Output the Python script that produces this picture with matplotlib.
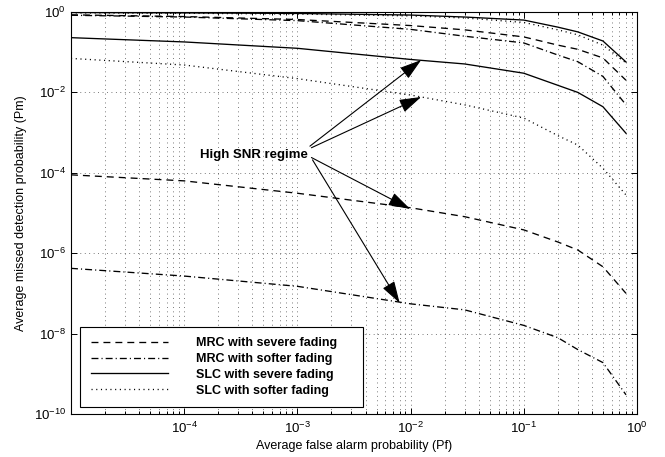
import matplotlib
matplotlib.use('Agg')
import matplotlib.pyplot as plt
from matplotlib.ticker import LogLocator, NullLocator, NullFormatter, FixedLocator, LogFormatterSciNotation

plt.rcParams['font.family'] = ['Liberation Sans', 'DejaVu Sans']
plt.rcParams['mathtext.fontset'] = 'custom'
plt.rcParams['mathtext.rm'] = 'Liberation Sans'
plt.rcParams['mathtext.it'] = 'Liberation Sans:italic'
plt.rcParams['mathtext.bf'] = 'Liberation Sans:bold'
plt.rcParams['lines.scale_dashes'] = False

# ---- data ----
pf = [1e-5, 1e-4, 1e-3, 1e-2, 0.03, 0.1, 0.2, 0.3, 0.5, 0.8]

# low SNR curves
mrc_severe_low = [0.85, 0.77, 0.65, 0.46, 0.36, 0.24, 0.15, 0.118, 0.072, 0.02]
mrc_softer_low = [0.83, 0.75, 0.61, 0.37, 0.25, 0.17, 0.085, 0.058, 0.025, 0.0049]
slc_severe_low = [0.97, 0.95, 0.92, 0.84, 0.75, 0.63, 0.42, 0.32, 0.19, 0.057]
slc_softer_low = [0.95, 0.93, 0.89, 0.80, 0.71, 0.55, 0.36, 0.27, 0.15, 0.054]

# high SNR curves
mrc_severe_high = [8.9e-5, 6.3e-5, 3.1e-5, 1.35e-5, 8.1e-6, 3.8e-6, 1.9e-6, 1.2e-6, 4.6e-7, 1.0e-7]
mrc_softer_high = [4.2e-7, 2.7e-7, 1.5e-7, 5.5e-8, 3.9e-8, 1.6e-8, 7.9e-9, 4.0e-9, 1.9e-9, 3.0e-10]
slc_severe_high = [0.23, 0.18, 0.125, 0.066, 0.051, 0.03, 0.015, 0.01, 0.0044, 0.00096]
slc_softer_high = [0.07, 0.048, 0.022, 0.0086, 0.0049, 0.0023, 8.4e-4, 4.9e-4, 1.3e-4, 2.8e-5]

labels = ['MRC with severe fading', 'MRC with softer fading',
          'SLC with severe fading', 'SLC with softer fading']

x_ticks = [1e-4, 1e-3, 1e-2, 1e-1, 1e0]
y_ticks = [1e-10, 1e-8, 1e-6, 1e-4, 1e-2, 1e0]

annot_text = 'High SNR regime'
annot_pos = (4.1e-4, 2.8e-4)
arrow_tails = [(1.29e-3, 4.6e-4), (1.33e-3, 4.2e-4), (1.33e-3, 2.4e-4), (1.36e-3, 2.1e-4)]
arrow_tips = [(1.24e-2, 0.064), (1.24e-2, 0.0077), (9.9e-3, 1.26e-5), (8.0e-3, 5.8e-8)]

# ---- styles ----
dashed = (0, (5.0, 3.6))
dashdot = (0, (5.0, 2.2, 0.8, 2.2))
dotted = (0, (0.8, 2.6))
lw = 0.95

fig = plt.figure(figsize=(6.65, 4.57), dpi=100)
ax = fig.add_axes([71/665, 1-414/457, 566/665, 402/457])

ax.plot(pf, mrc_severe_high, color='k', lw=lw, linestyle=dashed, label=labels[0])
ax.plot(pf, mrc_softer_high, color='k', lw=lw, linestyle=dashdot, label=labels[1])
ax.plot(pf, slc_severe_high, color='k', lw=lw, linestyle='-', label=labels[2])
ax.plot(pf, slc_softer_high, color='k', lw=lw, linestyle=dotted, label=labels[3])

ax.plot(pf, mrc_severe_low, color='k', lw=lw, linestyle=dashed)
ax.plot(pf, mrc_softer_low, color='k', lw=lw, linestyle=dashdot)
ax.plot(pf, slc_severe_low, color='k', lw=lw, linestyle='-')
ax.plot(pf, slc_softer_low, color='k', lw=lw, linestyle=dotted)

ax.set_xscale('log')
ax.set_yscale('log')
ax.set_xlim(1e-5, 1)
ax.set_ylim(1e-10, 1)

ax.xaxis.set_major_locator(FixedLocator(x_ticks))
ax.xaxis.set_minor_locator(LogLocator(base=10, subs=[2, 3, 4, 5, 6, 7, 8, 9], numticks=20))
ax.xaxis.set_minor_formatter(NullFormatter())
ax.xaxis.set_major_formatter(LogFormatterSciNotation())
ax.yaxis.set_major_locator(FixedLocator(y_ticks))
ax.yaxis.set_minor_locator(NullLocator())
ax.yaxis.set_major_formatter(LogFormatterSciNotation())

ax.tick_params(which='both', direction='in', top=True, right=True, labelsize=9.5, width=0.7)
ax.tick_params(axis='x', which='major', pad=5)
ax.tick_params(which='major', length=4)
ax.tick_params(which='minor', length=2)

gridkw = dict(color='0.3', linestyle=(0, (0.6, 2.6)), linewidth=0.6)
ax.grid(True, which='major', **gridkw)
ax.xaxis.grid(True, which='minor', **gridkw)

for s in ax.spines.values():
    s.set_linewidth(0.8)

ax.set_xlabel('Average false alarm probability (Pf)', fontsize=9, labelpad=3)
ax.set_ylabel('Average missed detection probability (Pm)', fontsize=9, labelpad=5)

ax.text(annot_pos[0], annot_pos[1], annot_text, fontsize=9.5, fontweight='bold',
        ha='center', va='center')
for tail, tip in zip(arrow_tails, arrow_tips):
    ax.annotate('', xy=tip, xytext=tail,
                arrowprops=dict(arrowstyle='-|>,head_length=0.9,head_width=0.28',
                                color='k', lw=0.8, shrinkA=0, shrinkB=0,
                                mutation_scale=15))

leg = ax.legend(loc='lower left', bbox_to_anchor=(0.016, 0.017, 0.5, 0.197),
                mode='expand', frameon=True, fancybox=False, shadow=False,
                handlelength=6.2, handletextpad=2.2, borderpad=0.85,
                labelspacing=0.3, borderaxespad=0,
                prop={'weight': 'bold', 'size': 9})
leg.get_frame().set_edgecolor('k')
leg.get_frame().set_linewidth(0.8)
leg.get_frame().set_alpha(1)

fig.savefig('out.png', dpi=100)
